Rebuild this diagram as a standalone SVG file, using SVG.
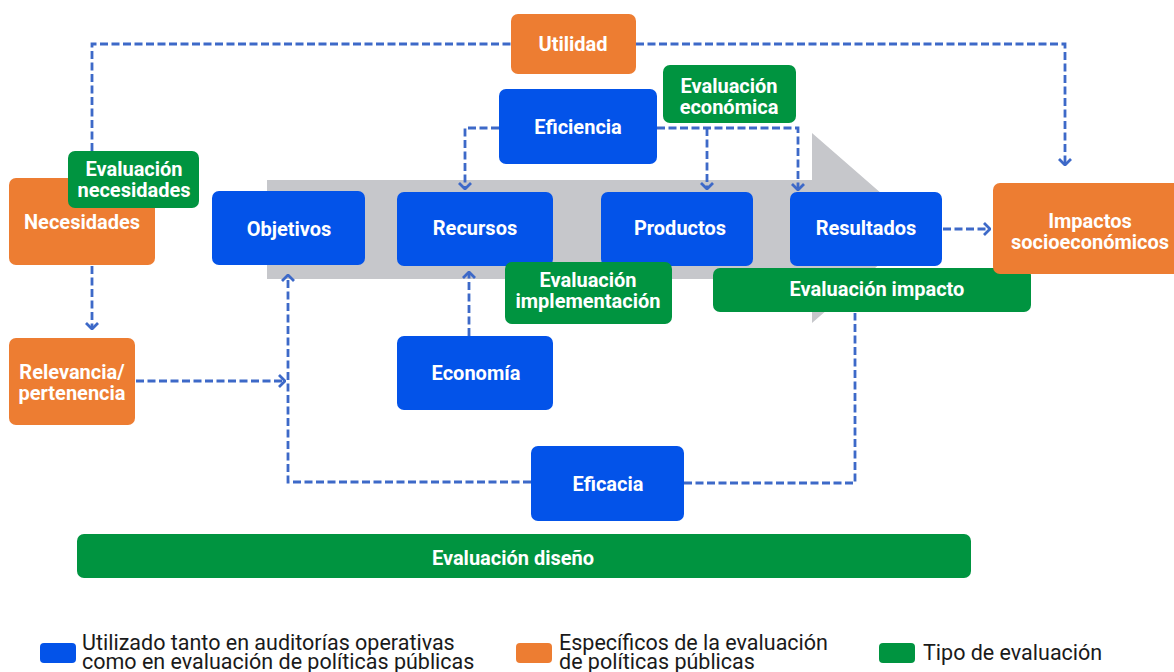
<svg xmlns="http://www.w3.org/2000/svg" width="1174" height="672" viewBox="0 0 1174 672">
  <style>
    .blue { fill: #0353e9; }
    .orange { fill: #ed7d32; }
    .green { fill: #009440; }
    .lbl { font-family: Roboto, "Liberation Sans", sans-serif; font-weight: 700; font-size: 20px; fill: #ffffff; text-anchor: middle; }
    .leg { font-family: Roboto, "Liberation Sans", sans-serif; font-weight: 400; font-size: 21.5px; fill: #1a1a1a; }
    .conn { fill: none; stroke: #3d69c8; stroke-width: 2.8; stroke-dasharray: 8 3.5; }
  </style>
  <defs>
    <marker id="arr" viewBox="0 0 8 14" refX="7" refY="7" markerWidth="8" markerHeight="14" markerUnits="userSpaceOnUse" orient="auto">
      <path d="M1,1 L7,7 L1,13" fill="none" stroke="#3d69c8" stroke-width="2.8" stroke-dasharray="none"/>
    </marker>
  </defs>
  <rect width="1174" height="672" fill="#ffffff"/>

  <g id="flow-arrow">
    <path d="M267,180 H812 V133 L921,228 L812,323 V279 H267 Z" fill="#c6c7cb"/>
  </g>

  <g id="connectors">
    <path class="conn" d="M92,151 V44 H511"/>
    <path class="conn" d="M636,44 H1065 V165" marker-end="url(#arr)"/>
    <path class="conn" d="M92,266 V329" marker-end="url(#arr)"/>
    <path class="conn" d="M136,381 H285" marker-end="url(#arr)"/>
    <path class="conn" d="M531,482 H288 V275" marker-end="url(#arr)"/>
    <path class="conn" d="M684,483 H855 V313"/>
    <path class="conn" d="M469,336 V272" marker-end="url(#arr)"/>
    <path class="conn" d="M499,128 H465 V189" marker-end="url(#arr)"/>
    <path class="conn" d="M657,128 H798 V190" marker-end="url(#arr)"/>
    <path class="conn" d="M707,128 V189" marker-end="url(#arr)"/>
    <path class="conn" d="M943,229 H990" marker-end="url(#arr)"/>
  </g>

  <g id="utilidad">
    <rect class="orange" x="511" y="14" width="125" height="60" rx="7"/>
    <text class="lbl" x="573" y="51">Utilidad</text>
  </g>
  <g id="eficiencia">
    <rect class="blue" x="499" y="89" width="158" height="75" rx="7"/>
    <text class="lbl" x="578" y="134">Eficiencia</text>
  </g>
  <g id="eval-economica">
    <rect class="green" x="663" y="65" width="133" height="58" rx="7"/>
    <text class="lbl" x="729" y="93">Evaluación</text>
    <text class="lbl" x="729" y="114">económica</text>
  </g>
  <g id="necesidades">
    <rect class="orange" x="9" y="178" width="146" height="87" rx="7"/>
    <text class="lbl" x="82" y="229">Necesidades</text>
  </g>
  <g id="eval-necesidades">
    <rect class="green" x="68" y="151" width="131" height="57" rx="7"/>
    <text class="lbl" x="134" y="176">Evaluación</text>
    <text class="lbl" x="134" y="197">necesidades</text>
  </g>
  <g id="objetivos">
    <rect class="blue" x="212" y="191" width="153" height="74" rx="7"/>
    <text class="lbl" x="289" y="236">Objetivos</text>
  </g>
  <g id="recursos">
    <rect class="blue" x="397" y="192" width="156" height="74" rx="7"/>
    <text class="lbl" x="475" y="235">Recursos</text>
  </g>
  <g id="productos">
    <rect class="blue" x="601" y="192" width="152" height="74" rx="7"/>
    <text class="lbl" x="680" y="235">Productos</text>
  </g>
  <g id="resultados">
    <rect class="blue" x="790" y="192" width="152" height="74" rx="7"/>
    <text class="lbl" x="866" y="235">Resultados</text>
  </g>
  <g id="eval-implementacion">
    <rect class="green" x="505" y="262" width="167" height="62" rx="7"/>
    <text class="lbl" x="588" y="287">Evaluación</text>
    <text class="lbl" x="588" y="308">implementación</text>
  </g>
  <g id="eval-impacto">
    <rect class="green" x="713" y="268" width="318" height="44" rx="7"/>
    <text class="lbl" x="877" y="296">Evaluación impacto</text>
  </g>
  <g id="impactos">
    <rect class="orange" x="993" y="183" width="195" height="91" rx="7"/>
    <text class="lbl" x="1090" y="228">Impactos</text>
    <text class="lbl" x="1090" y="249">socioeconómicos</text>
  </g>
  <g id="relevancia">
    <rect class="orange" x="9" y="338" width="126" height="87" rx="7"/>
    <text class="lbl" x="72" y="379">Relevancia/</text>
    <text class="lbl" x="72" y="400">pertenencia</text>
  </g>
  <g id="economia">
    <rect class="blue" x="397" y="336" width="156" height="74" rx="7"/>
    <text class="lbl" x="476" y="380">Economía</text>
  </g>
  <g id="eficacia">
    <rect class="blue" x="531" y="446" width="153" height="75" rx="7"/>
    <text class="lbl" x="608" y="491">Eficacia</text>
  </g>
  <g id="eval-diseno">
    <rect class="green" x="77" y="534" width="894" height="44" rx="7"/>
    <text class="lbl" x="513" y="565">Evaluación diseño</text>
  </g>

  <g id="legend">
    <rect class="blue" x="40" y="643" width="36" height="20" rx="4"/>
    <text class="leg" x="82" y="650">Utilizado tanto en auditorías operativas</text>
    <text class="leg" x="82" y="669">como en evaluación de políticas públicas</text>
    <rect class="orange" x="516" y="643" width="36" height="20" rx="4"/>
    <text class="leg" x="559" y="650">Específicos de la evaluación</text>
    <text class="leg" x="559" y="669">de políticas públicas</text>
    <rect class="green" x="879" y="643" width="36" height="20" rx="4"/>
    <text class="leg" x="923" y="660">Tipo de evaluación</text>
  </g>
</svg>
